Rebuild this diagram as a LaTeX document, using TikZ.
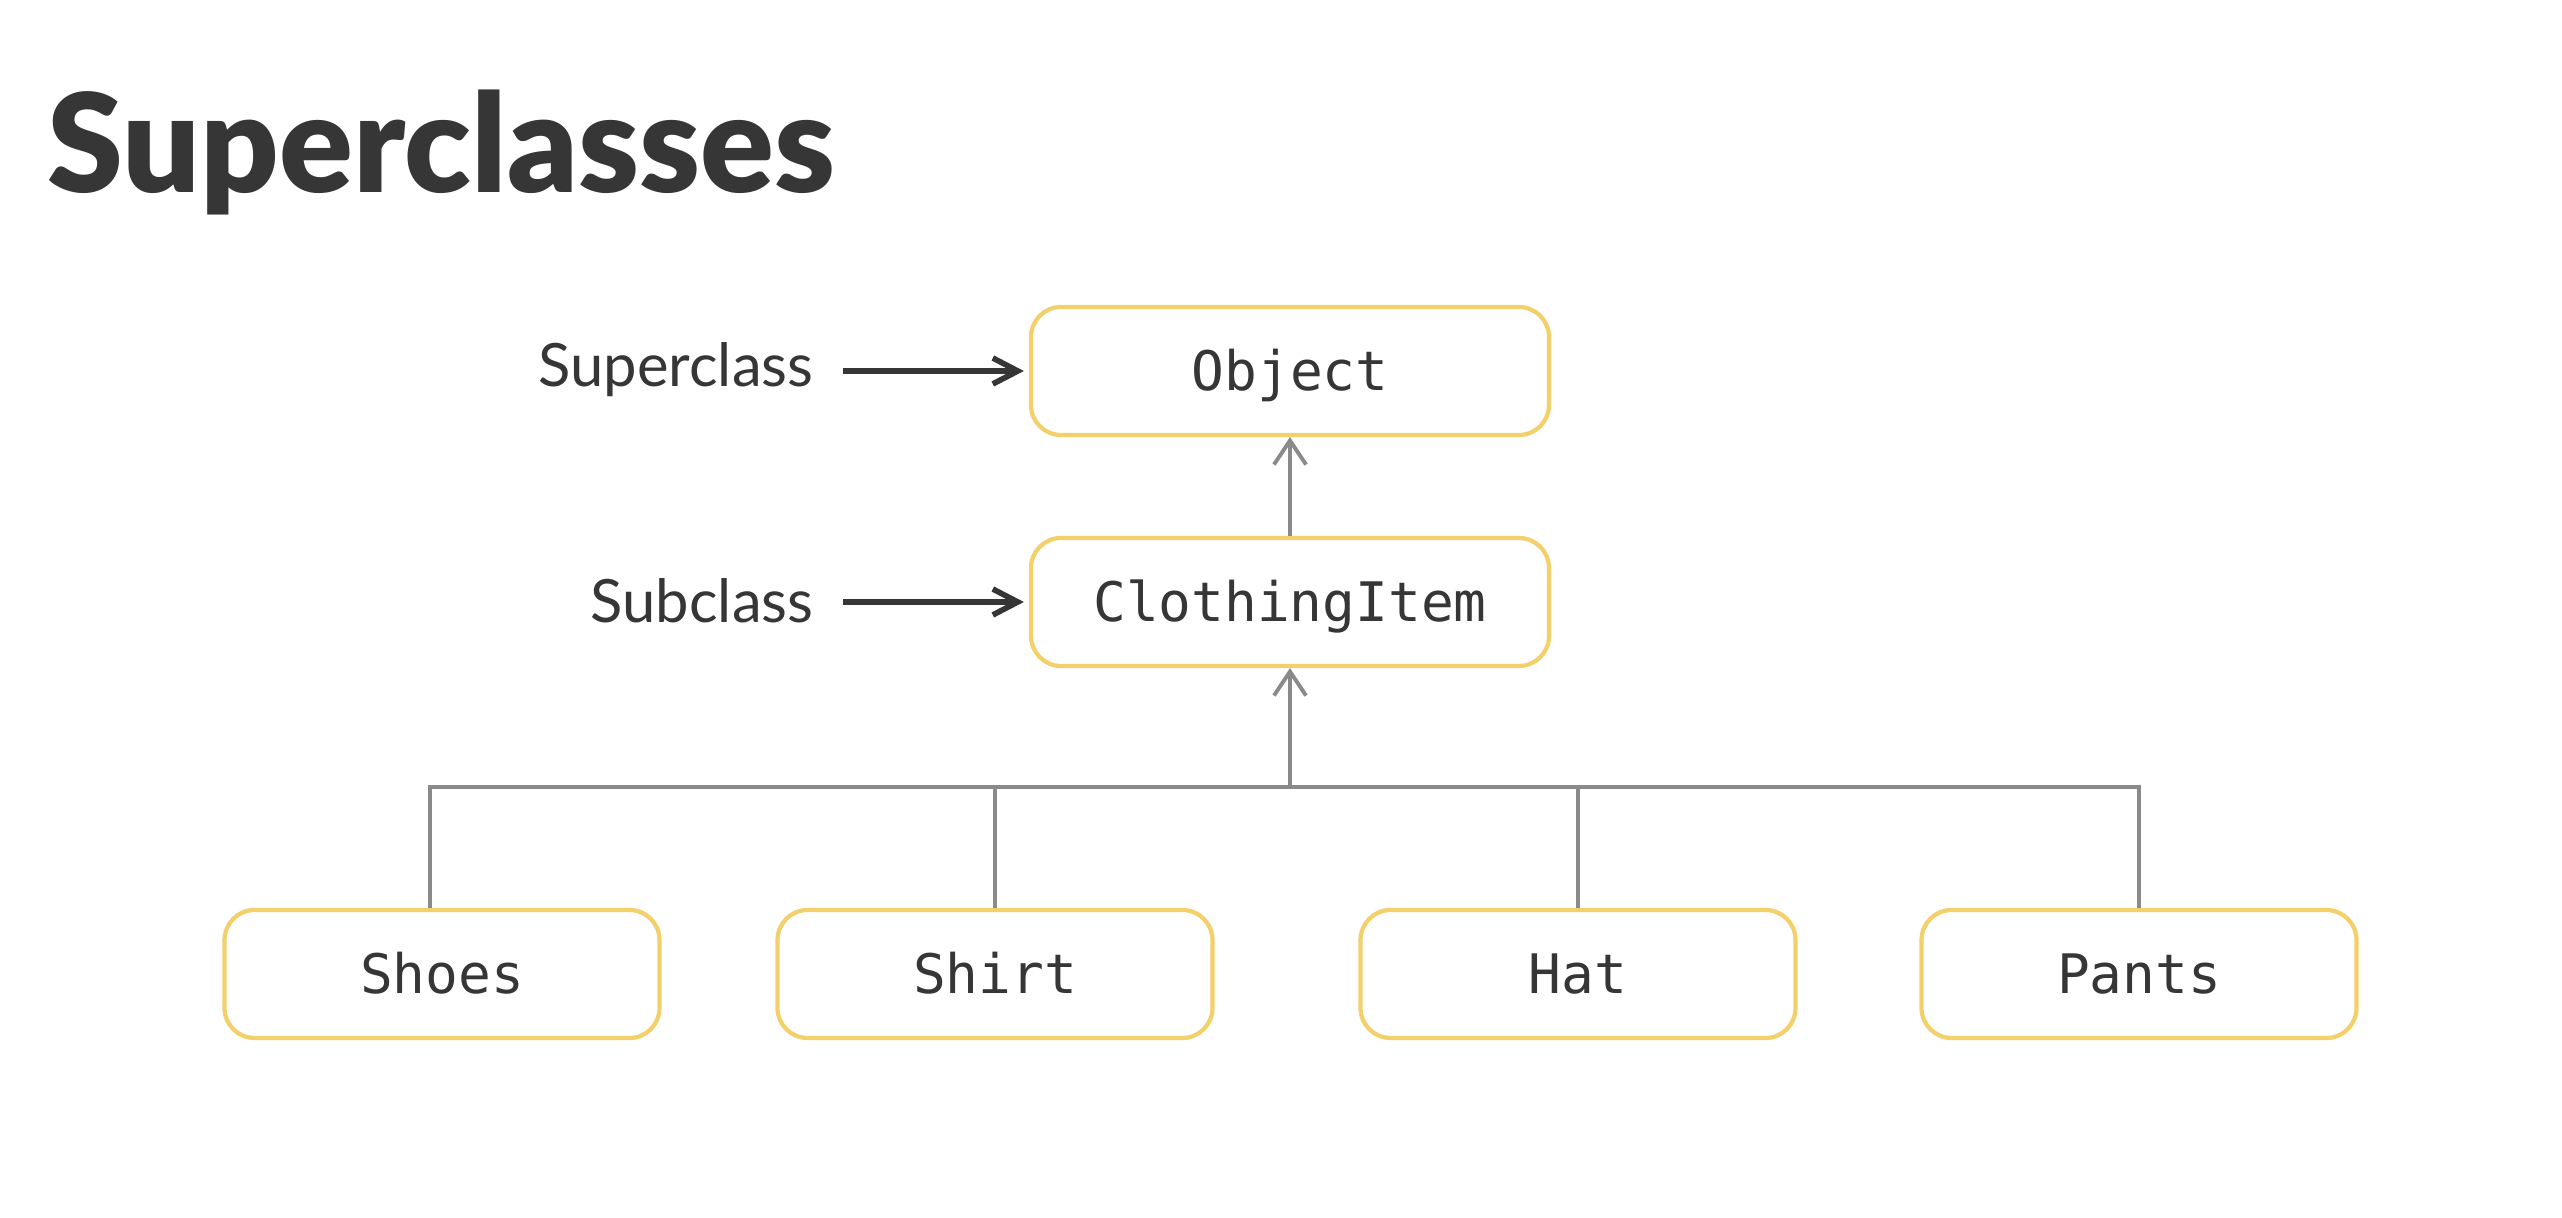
\documentclass[tikz,border=0pt]{standalone}
\usepackage{fontspec}
\setmainfont{Lato}
\setmonofont{DejaVu Sans Mono}
\newfontfamily\titlefont{Lato Black}
\usetikzlibrary{arrows.meta}
\definecolor{boxyellow}{HTML}{F3D06A}
\definecolor{inkgray}{HTML}{363636}
\definecolor{linegray}{HTML}{8A8A8A}
\begin{document}
\begin{tikzpicture}[
		classbox/.style={draw=boxyellow,line width=1.2pt,rounded corners=0.3cm,fill=white,
			minimum height=1.28cm,text height=0.40cm,text depth=0pt,
			font=\ttfamily\fontsize{15.5}{18}\selectfont,text=inkgray},
		wide/.style={minimum width=5.18cm},
		narrow/.style={minimum width=4.35cm},
		lbl/.style={font=\fontsize{17}{20}\selectfont,text=inkgray,inner sep=0pt,anchor=base east},
		lblarrow/.style={draw=inkgray,line width=1.6pt,-{Straight Barb[length=0.25cm,width=0.26cm,line width=1.6pt]},shorten >=0.05cm},
		tree/.style={draw=linegray,line width=1.1pt},
		treearrow/.style={tree,-{Straight Barb[length=0.24cm,width=0.32cm,line width=1.1pt]}}]
			\useasboundingbox[fill=white] (0,0) rectangle (25.62,12.18);
			\node[anchor=base west,inner sep=0pt,text=inkgray,font=\titlefont\fontsize{39}{44}\selectfont] (title) at (0.47,10.25) {Superclasses};
			\node[classbox,wide] (obj) at (12.90,8.47) {Object};
			\node[classbox,wide] (item) at (12.90,6.16) {ClothingItem};
			\node[classbox,narrow] (shoes) at (4.42,2.44) {Shoes};
			\node[classbox,narrow] (shirt) at (9.95,2.44) {Shirt};
			\node[classbox,narrow] (hat) at (15.78,2.44) {Hat};
			\node[classbox,narrow] (pants) at (21.39,2.44) {Pants};
			\node[lbl] (suplbl) at (8.14,8.31) {Superclass};
			\node[lbl] (sublbl) at (8.14,5.95) {Subclass};
			\coordinate (bus) at (12.90,4.31);
				\draw[lblarrow] (obj.west -| suplbl.east) ++(0.29,0) -- (obj.west);
				\draw[lblarrow] (item.west -| sublbl.east) ++(0.29,0) -- (item.west);
				\draw[treearrow] (item.north) -- (obj.south);
				\draw[treearrow] (bus) -- (item.south);
				\draw[tree] ([xshift=-0.12cm]shoes.north) |- (bus -| pants.north) -- (pants.north);
				\draw[tree] (shirt.north) -- (shirt.north |- bus);
				\draw[tree] (hat.north) -- (hat.north |- bus);
		\end{tikzpicture}
\end{document}
